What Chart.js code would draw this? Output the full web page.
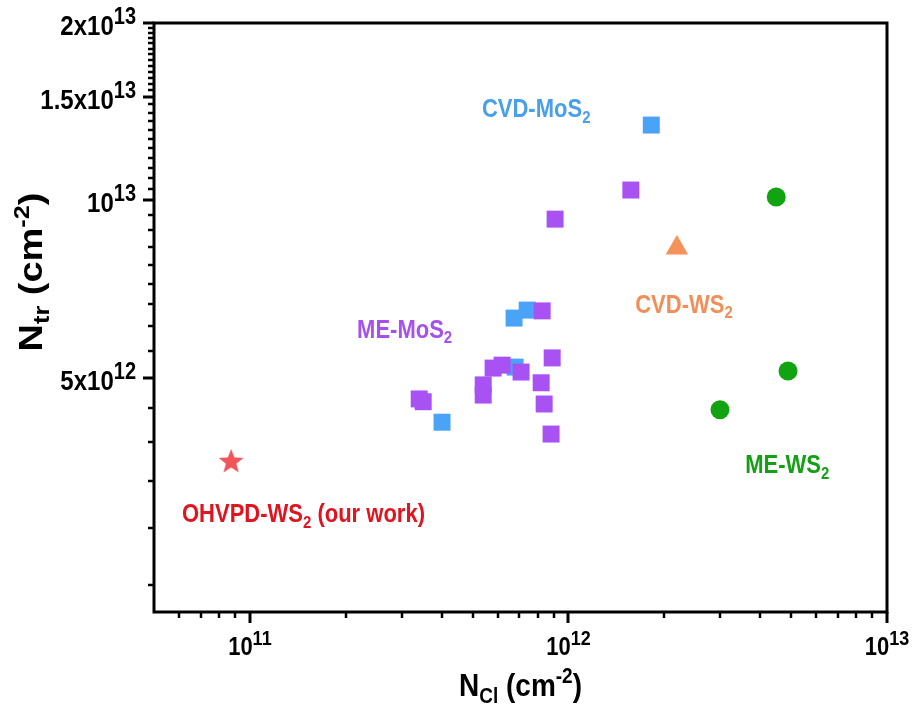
<!DOCTYPE html>
<html>
<head>
<meta charset="utf-8">
<script src="https://cdn.jsdelivr.net/npm/chart.js@4.4.1/dist/chart.umd.min.js"></script>
<style>
    html, body { margin: 0; padding: 0; background: #fff; }
    #wrap { position: relative; width: 916px; height: 710px; }
</style>
</head>
<body>
<div id="wrap"><canvas id="chart"></canvas></div>
<script>
// values (cm^-2)
const cvdMoS2X = [1.82e12, 4.01e11, 6.75e11, 7.42e11, 6.80e11];
const cvdMoS2Y = [1.342e13, 4.20e12, 6.31e12, 6.51e12, 5.21e12];

const meMoS2X = [1.57e12, 9.08e11, 8.27e11, 8.89e11, 5.80e11, 6.19e11, 7.10e11, 8.21e11, 8.39e11, 8.82e11, 5.40e11, 5.40e11, 3.40e11, 3.50e11];
const meMoS2Y = [1.041e13, 9.29e12, 6.49e12, 5.40e12, 5.19e12, 5.25e12, 5.11e12, 4.90e12, 4.51e12, 4.01e12, 4.86e12, 4.67e12, 4.60e12, 4.55e12];

const cvdWS2X = [2.19e12];
const cvdWS2Y = [8.30e12];

const meWS2X = [4.49e12, 4.89e12, 2.99e12];
const meWS2Y = [1.013e13, 5.13e12, 4.41e12];

const ohvpdX = [8.73e10];
const ohvpdY = [3.61e12];

// axes
const xMin = 5e10;
const xMax = 1e13;
const yMin = 2e12;
const yMax = 2e13;
const xMajorTicks = [1e11, 1e12, 1e13];
const xMajorExp = ['11', '12', '13'];
const xMinorTicks = [
    6e10, 7e10, 8e10, 9e10,
    2e11, 3e11, 4e11, 5e11, 6e11, 7e11, 8e11, 9e11,
    2e12, 3e12, 4e12, 5e12, 6e12, 7e12, 8e12, 9e12,
];
const yMajorTicks = [5e12, 1e13, 1.5e13, 2e13];
const yMajorLabels = [['5x10', '12'], ['10', '13'], ['1.5x10', '13'], ['2x10', '13']];
const yMinorTicks = [
    2.222e12, 2.778e12, 3.333e12, 3.889e12, 4.444e12,
    5.556e12, 6.111e12, 6.667e12, 7.222e12, 7.778e12, 8.333e12, 8.889e12, 9.444e12,
    1.045e13, 1.091e13, 1.136e13, 1.182e13, 1.227e13, 1.273e13, 1.318e13, 1.364e13, 1.409e13, 1.455e13,
    1.538e13, 1.577e13, 1.615e13, 1.654e13, 1.692e13, 1.731e13, 1.769e13, 1.808e13, 1.846e13, 1.885e13, 1.923e13, 1.962e13,
];

const FONT = "'Liberation Sans', Arial, sans-serif";
// the source figure is slightly stretched vertically
const STRETCH = 1.15;

// group labels, anchored at left/baseline in data units
const groupLabels = [
    { parts: [['CVD-MoS', ''], ['2', 'sub']], color: '#4a9fea', x: 5.35e11, y: 1.385e13 },
    { parts: [['ME-MoS', ''], ['2', 'sub']], color: '#a651ef', x: 2.17e11, y: 5.84e12 },
    { parts: [['CVD-WS', ''], ['2', 'sub']], color: '#f08f58', x: 1.62e12, y: 6.44e12 },
    { parts: [['ME-WS', ''], ['2', 'sub']], color: '#14a014', x: 3.59e12, y: 3.44e12 },
    { parts: [['OHVPD-WS', ''], ['2', 'sub'], [' (our work)', '']], color: '#e0141e', x: 6.12e10, y: 2.84e12 },
];

function toPoints(xs, ys) {
    return xs.map(function (x, i) {
        return { x: x, y: ys[i] };
    });
}

function makeStar(size, color) {
    const c = document.createElement('canvas');
    c.width = size;
    c.height = size;
    const g = c.getContext('2d');
    const cx = size / 2;
    const cy = size / 2 + 1;
    const outer = size / 2;
    const inner = outer * 0.42;
    g.beginPath();
    for (let i = 0; i < 10; i++) {
        const r = i % 2 === 0 ? outer : inner;
        const a = -Math.PI / 2 + (i * Math.PI) / 5;
        const px = cx + r * Math.cos(a);
        const py = cy + r * Math.sin(a);
        if (i === 0) {
            g.moveTo(px, py);
        } else {
            g.lineTo(px, py);
        }
    }
    g.closePath();
    g.fillStyle = color;
    g.fill();
    return c;
}

function partFont(kind, size, ratio) {
    const s = kind ? Math.round(size * ratio) : size;
    return 'bold ' + s + 'px ' + FONT;
}

function richWidth(ctx, parts, size, ratio) {
    let w = 0;
    parts.forEach(function (p) {
        ctx.font = partFont(p[1], size, ratio);
        w += ctx.measureText(p[0]).width;
    });
    return w;
}

// (x, y) is the anchor on the baseline of the normal text
function drawRich(ctx, parts, x, y, size, align, opts) {
    const o = opts || {};
    const ratio = o.ratio || 0.68;
    const w = richWidth(ctx, parts, size, ratio);
    let cx = 0;
    if (align === 'center') {
        cx = -w / 2;
    } else if (align === 'right') {
        cx = -w;
    }
    ctx.save();
    ctx.translate(x, y);
    if (o.rotate) {
        ctx.rotate(o.rotate);
        ctx.scale(STRETCH, 1);
    } else {
        ctx.scale(1, STRETCH);
    }
    ctx.textAlign = 'left';
    ctx.textBaseline = 'alphabetic';
    parts.forEach(function (p) {
        ctx.font = partFont(p[1], size, ratio);
        let dy = 0;
        if (p[1] === 'sub') {
            dy = size * 0.22;
        } else if (p[1] === 'sup') {
            dy = -size * 0.4;
        }
        ctx.fillText(p[0], cx, dy);
        cx += ctx.measureText(p[0]).width;
    });
    ctx.restore();
}

const axesPlugin = {
    id: 'originAxes',
    afterDraw(chart) {
        const ctx = chart.ctx;
        const xs = chart.scales.x;
        const ys = chart.scales.y;
        const a = chart.chartArea;
        ctx.save();
        ctx.strokeStyle = '#000';
        ctx.fillStyle = '#000';
        ctx.lineCap = 'butt';

        function seg(x1, y1, x2, y2, w) {
            ctx.lineWidth = w;
            ctx.beginPath();
            ctx.moveTo(x1, y1);
            ctx.lineTo(x2, y2);
            ctx.stroke();
        }

        xMinorTicks.forEach(function (v) {
            const px = Math.round(xs.getPixelForValue(v));
            seg(px, a.bottom, px, a.bottom + 6, 2.5);
        });
        xMajorTicks.forEach(function (v) {
            const px = Math.round(xs.getPixelForValue(v));
            seg(px, a.bottom, px, a.bottom + 11, 3);
        });
        yMinorTicks.forEach(function (v) {
            const py = Math.round(ys.getPixelForValue(v));
            seg(a.left, py, a.left - 6, py, 2.5);
        });
        yMajorTicks.forEach(function (v) {
            const py = Math.round(ys.getPixelForValue(v));
            seg(a.left, py, a.left - 11, py, 3);
        });

        ctx.lineWidth = 3;
        ctx.strokeRect(a.left, a.top, a.right - a.left, a.bottom - a.top);

        // tick labels
        const tickOpts = { ratio: 0.82 };
        xMajorTicks.forEach(function (v, i) {
            const px = xs.getPixelForValue(v);
            drawRich(ctx, [['10', ''], [xMajorExp[i], 'sup']], px, a.bottom + 43, 22, 'center', tickOpts);
        });
        yMajorTicks.forEach(function (v, i) {
            const py = ys.getPixelForValue(v);
            const lab = yMajorLabels[i];
            drawRich(ctx, [[lab[0], ''], [lab[1], 'sup']], a.left - 18, py + 12, 24, 'right', tickOpts);
        });

        // axis titles
        drawRich(ctx, [['N', ''], ['Cl', 'sub'], [' (cm', ''], ['-2', 'sup'], [')', '']],
            (a.left + a.right) / 2, a.bottom + 84, 28, 'center');
        drawRich(ctx, [['N', ''], ['tr', 'sub'], [' (cm', ''], ['-2', 'sup'], [')', '']],
            42, 272, 33, 'center', { rotate: -Math.PI / 2 });

        // group labels
        groupLabels.forEach(function (g) {
            ctx.fillStyle = g.color;
            drawRich(ctx, g.parts, xs.getPixelForValue(g.x), ys.getPixelForValue(g.y), 22, 'left');
        });
        ctx.restore();
    },
};

const blue = '#4ba3f7';
const purple = '#a852f4';
const orange = '#f5925a';
const green = '#12a312';
const red = '#f2545a';

new Chart(document.getElementById('chart'), {
    type: 'scatter',
    data: {
        datasets: [
            {
                label: 'CVD-MoS2',
                data: toPoints(cvdMoS2X, cvdMoS2Y),
                pointStyle: 'rect',
                pointRadius: 12,
                backgroundColor: blue,
                borderWidth: 0,
                order: 3,
            },
            {
                label: 'ME-MoS2',
                data: toPoints(meMoS2X, meMoS2Y),
                pointStyle: 'rect',
                pointRadius: 12,
                backgroundColor: purple,
                borderWidth: 0,
                order: 2,
            },
            {
                label: 'CVD-WS2',
                data: toPoints(cvdWS2X, cvdWS2Y),
                pointStyle: 'triangle',
                pointRadius: 13,
                backgroundColor: orange,
                borderWidth: 0,
                order: 1,
            },
            {
                label: 'ME-WS2',
                data: toPoints(meWS2X, meWS2Y),
                pointStyle: 'circle',
                pointRadius: 9.5,
                backgroundColor: green,
                borderWidth: 0,
                order: 1,
            },
            {
                label: 'OHVPD-WS2 (our work)',
                data: toPoints(ohvpdX, ohvpdY),
                pointStyle: makeStar(26, red),
                pointRadius: 13,
                backgroundColor: red,
                borderWidth: 0,
                order: 1,
            },
        ],
    },
    options: {
        responsive: true,
        maintainAspectRatio: false,
        animation: false,
        events: [],
        layout: { padding: { top: 23, right: 29, left: 0, bottom: 0 } },
        plugins: {
            legend: { display: false },
            tooltip: { enabled: false },
        },
        scales: {
            x: {
                type: 'logarithmic',
                position: 'bottom',
                min: xMin,
                max: xMax,
                grid: { display: false },
                border: { display: false },
                ticks: { display: false },
                afterFit: function (scale) {
                    scale.height = 98;
                },
            },
            y: {
                type: 'logarithmic',
                position: 'left',
                min: yMin,
                max: yMax,
                grid: { display: false },
                border: { display: false },
                ticks: { display: false },
                afterFit: function (scale) {
                    scale.width = 154;
                },
            },
        },
    },
    plugins: [axesPlugin],
});
</script>
</body>
</html>
